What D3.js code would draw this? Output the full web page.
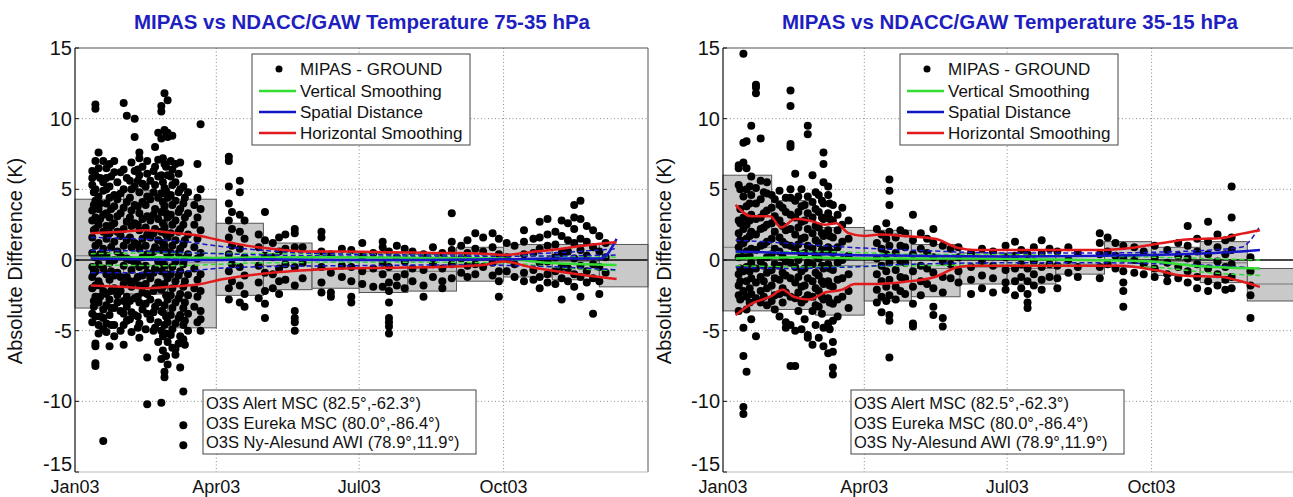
<!DOCTYPE html>
<html><head><meta charset="utf-8">
<script src="https://cdn.jsdelivr.net/npm/d3@7"></script>
<style>body{margin:0;background:#fff;overflow:hidden}</style>
</head><body><svg id="c" width="1293" height="497"></svg>
<script>
const titles = ["MIPAS vs NDACC/GAW Temperature 75-35 hPa", "MIPAS vs NDACC/GAW Temperature 35-15 hPa"];
const yLabel = "Absolute Difference (K)";
const yTicks = [-15, -10, -5, 0, 5, 10, 15];
const xTickDays = [0, 90, 181, 273];
const xTickLabels = ["Jan03", "Apr03", "Jul03", "Oct03"];
const legendLabels = ["MIPAS - GROUND", "Vertical Smoothing", "Spatial Distance", "Horizontal Smoothing"];
const stationLabels = ["O3S Alert MSC (82.5°,-62.3°)", "O3S Eureka MSC (80.0°,-86.4°)", "O3S Ny-Alesund AWI (78.9°,11.9°)"];

// ---- left panel (75-35 hPa) : [day of 2003, values]
const leftCols = [
 [11,[6.3,5.8,5.3,3.5,2.8,1.6,0.5,-0.5,-1.2,-2.0,-3.8,-4.4]],
 [12,[4.8,3.9,2.1,-0.9,-2.9,-3.3]],
 [13,[11.0,10.7,7.0,6.0,5.0,4.2,3.0,2.2,1.0,0.2,-0.8,-1.8,-2.6,-4.0,-5.9,-6.1,-7.3,-7.5]],
 [15,[7.6,6.5,4.5,3.6,2.5,1.2,-0.3,-1.5,-3.0,-4.6,-5.2]],
 [16,[5.8,4.0,2.9,0.4,-1.8,-2.6,-4.0]],
 [18,[7.0,5.5,4.9,3.2,2.0,0.8,-0.6,-2.2,-3.5,-4.1,-4.9,-12.8]],
 [20,[6.5,5.8,5.0,4.0,3.3,2.4,1.5,0.3,-1.0,-2.4,-3.2,-4.5,-5.1]],
 [22,[6.8,5.2,4.4,3.0,1.9,-0.2,-1.4,-2.8,-3.9,-6.1]],
 [23,[5.9,3.6,2.4,0.9,-0.8,-2.2,-3.4,-4.6]],
 [25,[7.0,6.2,4.6,3.8,2.6,1.3,0.0,-1.1,-2.0,-3.4,-4.6,-5.4]],
 [27,[5.5,4.3,3.1,2.0,0.6,-0.9,-2.5,-3.0]],
 [29,[6.2,4.7,3.3,1.7,0.3,-1.2,-2.2,-3.6,-5.0]],
 [31,[11.1,6.4,5.0,3.7,2.2,1.0,-0.4,-1.7,-2.9,-3.8,-4.6,-6.0]],
 [33,[10.2,5.8,4.1,2.7,1.4,0.1,-1.2,-2.6,-3.3,-4.3]],
 [35,[5.6,4.4,3.0,1.6,0.0,-1.5,-2.9,-4.2]],
 [36,[6.9,5.0,3.5,2.4,0.9,-0.7,-1.9,-3.7,-5.1]],
 [38,[10.0,8.7,6.3,5.2,3.9,2.6,1.2,-0.2,-1.5,-2.7,-3.9]],
 [40,[6.4,5.6,3.8,2.5,1.1,-0.3,-1.2,-2.6,-4.0,-4.8]],
 [41,[7.6,7.2,6.0,4.8,3.3,2.1,0.8,-0.5,-1.8,-3.0,-4.5,-5.5]],
 [43,[6.6,5.4,4.1,2.9,1.5,0.2,-1.1,-2.3,-3.5]],
 [45,[5.2,3.9,2.3,1.0,-0.4,-1.7,-3.1,-4.9]],
 [46,[7.0,6.1,4.5,3.1,1.8,0.4,-0.9,-2.4,-3.8,-6.9,-10.2]],
 [48,[5.6,4.3,2.8,1.6,0.3,-1.3,-2.8,-4.2]],
 [50,[6.3,4.8,3.2,1.9,0.6,-0.9,-2.2,-3.7,-5.0]],
 [51,[8.0,6.6,5.3,3.6,2.2,0.9,-0.6,-2.0,-3.3,-4.8]],
 [53,[9.0,7.1,5.9,4.4,2.9,1.4,-0.1,-1.6,-3.0,-4.4,-5.8]],
 [55,[10.9,10.5,8.6,6.0,4.7,3.4,2.0,0.7,-0.8,-2.1,-3.6,-5.0,-7.0,-10.1]],
 [56,[7.2,5.5,4.1,2.6,1.2,-0.2,-1.9,-3.7,-5.4,-6.4]],
 [57,[11.8,9.2,6.8,5.1,3.8,2.3,1.0,-0.4,-1.7,-3.2,-4.6,-7.9,-8.3]],
 [58,[9.0,6.6,4.9,3.3,1.8,0.6,-1.0,-2.5,-4.0,-5.2,-6.8]],
 [59,[11.3,9.0,8.7,6.0,4.4,3.0,1.6,0.3,-1.3,-2.8,-4.4,-5.8,-7.4]],
 [61,[7.0,5.9,4.6,3.2,1.9,0.5,-1.0,-2.5,-3.9,-5.3]],
 [62,[8.8,6.4,5.3,3.9,2.5,1.0,-0.5,-2.0,-3.4,-4.9,-6.2]],
 [64,[6.8,5.5,4.2,2.8,1.4,-0.1,-1.5,-3.0,-4.5,-6.3,-6.7]],
 [66,[6.1,4.8,3.4,2.0,0.5,-1.1,-2.7,-4.1,-5.9]],
 [67,[6.9,5.0,3.6,2.2,0.8,-0.8,-2.4,-3.9,-5.4,-7.6]],
 [69,[5.2,4.0,2.5,1.1,-0.3,-1.9,-3.4,-4.6,-5.6,-9.3,-11.7,-13.1]],
 [70,[4.4,3.0,1.4,0.1,-1.5,-3.0,-4.3,-6.0]],
 [72,[4.8,3.3,1.8,0.4,-1.0,-2.5,-3.8,-5.0]],
 [76,[3.9,2.5,0.9,-0.6,-2.0,-3.3]],
 [78,[6.8,4.4,3.0,1.5,0.1,-1.4,-2.6,-4.4]],
 [80,[9.6,5.0,3.6,2.1,0.5,-1.0,-2.2,-3.6,-4.2,-5.0]],
 [98,[7.3,7.0,5.2,4.0,2.8,1.6,0.4,-0.8,-2.0,-2.8]],
 [100,[3.4,2.2,1.0,-0.3,-1.5]],
 [105,[5.6,4.8,3.2,2.0,0.8,-0.5,-1.8,-3.0]],
 [108,[2.8,1.5,0.2,-1.1,-2.4,-3.3]],
 [117,[1.8,0.9,-0.4,-1.6,-2.7]],
 [121,[3.4,1.4,0.3,-0.9,-2.2,-3.1,-4.1]],
 [126,[1.2,0.2,-1.0,-2.0]],
 [130,[1.6,0.6,-0.6,-1.5,-2.4]],
 [134,[1.8,0.8,-0.3,-1.4]],
 [140,[2.2,1.9,0.9,-0.5,-1.8,-3.6,-4.1,-4.4,-5.0]],
 [145,[0.9,-0.2,-1.3]],
 [157,[2.0,1.6,0.6,-0.5,-1.6,-2.3]],
 [163,[0.4,-0.9,-2.3,-2.6]],
 [170,[0.8,-0.4,-1.2]],
 [176,[0.7,-0.5,-1.5,-2.6,-3.0]],
 [183,[1.2,0.3,-0.8,-1.7]],
 [190,[0.5,-0.6,-1.9]],
 [196,[1.3,0.9,-0.2,-1.0,-1.9]],
 [200,[0.6,-0.5,-1.6,-2.2,-3.0,-4.1,-4.4,-4.7,-5.2]],
 [205,[1.0,0.2,-1.2,-1.8]],
 [210,[0.8,-0.1,-1.0,-2.0]],
 [215,[0.6,-0.6,-1.5]],
 [222,[0.4,-0.7,-1.8,-2.6]],
 [228,[0.9,-0.3,-1.2]],
 [234,[0.5,-0.6,-1.5,-2.0]],
 [240,[3.3,1.3,0.7,-0.3,-1.3]],
 [246,[1.0,0.1,-0.9]],
 [250,[1.4,0.5,-0.4,-1.2]],
 [255,[1.9,0.8,-0.3,-1.0]],
 [260,[1.6,0.6,-0.5]],
 [266,[1.9,0.9,-0.2,-1.1]],
 [270,[1.5,0.4,-0.8,-1.5,-2.6]],
 [275,[1.2,0.2,-0.8]],
 [280,[1.0,-0.3,-1.2]],
 [286,[2.1,1.3,0.4,-0.9,-1.5]],
 [292,[1.5,0.5,-0.7,-1.4]],
 [296,[2.7,1.6,0.8,-0.2,-1.2,-2.0]],
 [301,[2.9,1.8,1.0,-0.1,-1.0,-1.6]],
 [306,[2.0,1.1,0.2,-0.8,-1.7]],
 [310,[2.8,1.7,0.5,-0.5,-1.3,-2.8]],
 [314,[2.6,1.4,0.6,-0.6,-1.5]],
 [318,[3.9,3.0,2.2,1.2,0.1,-1.0,-1.9]],
 [322,[4.2,2.9,1.5,0.7,-0.4,-1.2,-2.6]],
 [326,[2.4,1.3,0.3,-0.8,-1.6]],
 [330,[2.1,0.9,-0.3,-1.3,-3.8]],
 [334,[1.7,0.6,-0.5,-1.5,-2.4]],
 [338,[1.2,0.2,-0.9]]
];
// [start day, end day, low, high, middle]
const leftBoxes = [
 [0,22,-3.4,4.3,0.3],[22,59,-2.4,4.3,0.2],[31,59,-2.4,4.9,0.2],[59,90,-4.8,4.3,-0.2],
 [90,120,-2.5,2.6,0.1],[120,151,-2.1,1.2,-0.4],[151,181,-2.0,0.6,-0.6],[181,212,-2.3,0.5,-0.8],
 [212,243,-2.2,0.4,-0.8],[243,273,-1.5,0.9,-0.3],[273,304,-1.2,1.1,0.0],[304,334,-1.4,1.1,-0.1],[334,365,-1.9,1.1,0.0]
];
const leftRedUp = [[10,1.9],[30,2.0],[45,2.1],[60,1.95],[80,1.7],[90,1.45],[110,1.0],[130,0.75],[150,0.6],[170,0.6],[200,0.55],[230,0.5],[260,0.45],[273,0.35],[290,0.55],[310,0.8],[330,1.1],[345,1.25]];
const leftRedLo = [[10,-1.8],[30,-1.9],[45,-2.0],[60,-1.9],[80,-1.7],[90,-1.45],[110,-1.1],[130,-0.85],[150,-0.7],[170,-0.6],[200,-0.55],[230,-0.5],[260,-0.35],[273,-0.1],[290,-0.5],[310,-0.85],[330,-1.15],[345,-1.35]];
const leftBlueMid = [[10,0.1],[40,0.05],[80,0.0],[120,0.05],[170,0.0],[220,0.0],[273,0.05],[310,0.1],[335,0.1],[345,1.5]];
const leftBlueUp = [[10,1.6],[40,1.5],[70,1.3],[90,1.0],[130,0.6],[180,0.4],[240,0.35],[280,0.4],[320,0.6],[345,0.8]];
const leftBlueLo = [[10,-0.9],[40,-0.9],[70,-0.8],[90,-0.6],[130,-0.45],[180,-0.4],[240,-0.35],[280,-0.4],[320,-0.55],[345,-0.7]];
const leftBlueUp2 = [[10,0.7],[50,0.6],[90,0.45],[150,0.3],[250,0.25],[345,0.35]];
const leftGreenMid = [[10,0.15],[50,0.2],[90,0.15],[150,0.2],[220,0.15],[273,0.1],[300,-0.2],[345,-0.35]];
const leftGreenUp = [[10,0.45],[60,0.5],[120,0.45],[200,0.4],[273,0.3],[345,0.2]];
const leftGreenLo = [[10,-0.35],[60,-0.4],[120,-0.2],[200,-0.15],[273,-0.2],[310,-0.55],[345,-0.75]];

// ---- right panel (35-15 hPa)
const rightCols = [
 [10,[6.7,6.5,5.3,2.8,1.9,0.9,0.2,-1.0,-1.8,-2.5,-3.6]],
 [11,[5.0,3.6,2.6,1.4,0.5,-0.6,-1.5,-2.8]],
 [13,[14.6,8.3,6.9,4.5,3.0,2.2,1.2,0.3,-0.8,-2.2,-4.8,-6.8,-10.4,-10.9]],
 [15,[8.4,6.5,5.0,3.8,2.5,1.5,0.6,-0.5,-1.5,-2.6,-3.5,-7.9]],
 [17,[5.2,4.0,2.8,1.7,0.3,-0.8,-2.0,-3.0]],
 [18,[9.5,5.9,4.6,3.2,2.0,0.8,-0.2,-1.3,-2.4,-4.2]],
 [21,[12.4,12.2,11.8,5.1,4.0,2.9,1.8,0.7,-0.6,-1.6,-2.7,-5.4]],
 [24,[8.6,5.6,4.3,3.0,2.2,1.0,-0.1,-1.2,-2.2,-3.0]],
 [26,[4.8,3.3,2.3,1.1,-0.4,-1.5,-2.6]],
 [28,[5.5,4.7,3.5,2.5,1.3,0.2,-0.9,-2.0,-3.2]],
 [31,[4.6,3.7,2.6,1.5,0.4,-0.7,-1.8,-2.9]],
 [33,[4.3,3.1,2.0,0.8,-0.3,-1.3,-2.5,-3.5]],
 [36,[4.9,3.9,2.8,1.6,0.6,-0.4,-1.4,-2.4,-4.0]],
 [38,[3.7,2.4,1.3,0.2,-0.9,-2.0,-3.0]],
 [40,[4.4,3.4,2.1,1.1,-0.1,-1.1,-2.3,-4.4,-4.8]],
 [43,[12.0,10.9,8.2,8.0,5.0,4.4,3.2,2.2,1.0,-0.2,-1.3,-2.6,-4.6,-7.5]],
 [46,[6.1,4.2,3.0,1.8,0.7,-0.5,-1.6,-2.7,-5.0,-7.5]],
 [48,[4.5,3.4,2.3,1.1,0.0,-1.2,-2.3,-3.6]],
 [50,[5.0,3.8,2.7,1.5,0.4,-0.8,-1.9,-3.0,-4.9]],
 [52,[3.9,2.8,1.6,0.5,-0.6,-1.8,-2.8,-4.2]],
 [54,[9.5,8.9,4.5,3.3,2.2,1.0,-0.2,-1.3,-2.5,-5.3,-5.5]],
 [57,[6.0,4.1,3.0,1.9,0.8,-0.3,-1.5,-2.6,-3.6,-6.0]],
 [59,[4.8,3.6,2.4,1.4,0.3,-0.9,-2.0,-3.2,-4.6]],
 [61,[4.6,3.4,2.3,1.2,0.1,-1.1,-2.2,-3.3,-5.5]],
 [63,[4.2,3.0,1.9,0.7,-0.4,-1.5,-2.6,-3.8]],
 [64,[7.6,6.8,5.5,4.0,2.9,1.7,0.6,-0.6,-1.7,-2.8,-4.8,-6.1]],
 [67,[5.2,4.6,3.3,2.1,0.9,-0.3,-1.5,-2.7,-4.5,-6.6]],
 [68,[4.0,2.9,1.7,0.6,-0.6,-1.8,-3.0,-4.9]],
 [70,[3.9,2.8,1.6,0.5,-0.7,-1.9,-3.1,-4.3,-5.8,-6.5,-7.6,-8.1]],
 [73,[3.2,2.1,0.9,-0.2,-1.4,-2.8,-4.0]],
 [76,[3.7,2.5,1.3,0.0,-1.3,-2.6]],
 [80,[2.8,1.5,0.3,-1.0,-2.2,-3.4]],
 [98,[2.2,1.2,0.1,-1.0,-2.1,-3.0]],
 [101,[1.8,0.8,-0.4,-1.5,-2.6,-3.7]],
 [104,[2.6,1.5,0.4,-0.8,-1.9,-2.9]],
 [106,[5.7,4.9,3.9,2.0,1.0,-0.2,-1.4,-2.5,-3.9,-4.3,-6.9]],
 [110,[1.6,0.5,-0.7,-1.9,-2.8]],
 [113,[2.1,1.0,-0.1,-1.2,-2.2]],
 [116,[1.9,0.9,-0.2,-1.3,-2.4]],
 [121,[3.2,1.4,0.4,-0.8,-1.9,-3.1,-4.5,-4.7]],
 [126,[1.9,0.8,-0.4,-1.5,-2.5]],
 [130,[1.5,0.5,-0.6,-1.7]],
 [134,[2.2,1.2,0.2,-0.9,-2.0,-3.3,-3.9]],
 [140,[1.0,-0.1,-1.2,-2.3,-4.1,-4.7]],
 [145,[0.8,-0.3,-1.3]],
 [150,[0.9,0.2,-0.8,-1.6]],
 [158,[0.5,-0.5,-1.4,-2.4]],
 [165,[0.8,-0.2,-1.1,-2.0]],
 [172,[0.6,-0.4,-1.3,-2.3]],
 [180,[1.0,0.2,-0.7,-1.6,-2.1]],
 [186,[1.3,0.3,-0.6,-1.5,-2.5]],
 [190,[0.7,-0.3,-1.2,-2.0]],
 [194,[0.4,-0.6,-1.5,-2.4,-3.0,-3.4]],
 [198,[0.9,-0.1,-1.0,-1.8]],
 [203,[1.4,0.5,-0.5,-1.4,-2.1]],
 [208,[0.8,-0.3,-1.2]],
 [213,[0.6,-0.4,-1.3,-2.0]],
 [220,[0.9,0.0,-0.9]],
 [226,[0.5,-0.5,-1.2]],
 [240,[1.9,1.2,0.4,-0.5,-1.3]],
 [245,[1.6,0.6,-0.3]],
 [250,[1.2,0.3,-0.6]],
 [255,[1.0,0.1,-0.8,-1.6,-2.2,-3.3]],
 [262,[0.9,0.0,-0.9]],
 [268,[0.6,-0.3,-1.0]],
 [275,[1.0,0.2,-0.6,-1.2]],
 [283,[0.7,-0.2,-1.0,-1.5]],
 [290,[1.2,0.3,-0.5,-1.3]],
 [296,[2.4,1.0,0.1,-0.8,-1.6]],
 [302,[1.5,0.6,-0.3,-1.2,-2.0]],
 [309,[2.7,1.3,0.4,-0.6,-1.5,-2.2]],
 [315,[1.8,0.9,-0.1,-1.0,-1.8]],
 [320,[1.4,0.4,-0.5,-1.4,-2.1]],
 [324,[5.2,3.0,1.6,0.7,-0.3,-1.2,-2.0]],
 [336,[0.2,-0.8,-1.8,-2.5,-4.1]]
];
const rightBoxes = [
 [0,31,-3.6,6.0,0.9],[31,59,-3.5,4.2,0.4],[59,90,-3.9,2.3,-0.4],[90,120,-2.9,2.1,-0.2],
 [120,151,-2.6,1.1,-0.6],[151,181,-1.7,0.5,-0.5],[181,212,-1.7,0.3,-0.6],[212,243,-1.0,0.3,-0.3],
 [243,273,-0.5,1.3,0.4],[273,304,-1.1,0.9,-0.1],[304,334,-1.6,1.3,-0.2],[334,365,-2.9,-0.6,-1.7]
];
const rightRedUp = [[8,3.9],[18,3.1],[30,3.1],[37,2.3],[46,2.9],[55,2.8],[65,2.5],[72,2.6],[80,1.9],[90,1.7],[100,1.8],[115,1.7],[135,1.5],[150,0.85],[160,0.7],[200,0.7],[240,0.7],[255,0.8],[280,1.2],[295,1.45],[318,1.55],[328,1.8],[342,2.1]];
const rightRedLo = [[8,-3.9],[18,-3.1],[30,-2.6],[38,-2.1],[45,-2.6],[55,-2.8],[65,-2.3],[76,-2.1],[84,-1.7],[94,-1.7],[115,-1.55],[135,-1.2],[150,-0.5],[161,-0.4],[253,-0.4],[277,-0.75],[292,-1.1],[318,-1.2],[328,-1.45],[342,-1.9]];
const rightBlueMid = [[8,0.6],[40,0.5],[80,0.35],[120,0.3],[180,0.25],[240,0.3],[290,0.4],[330,0.6],[342,0.7]];
const rightBlueUp = [[8,1.4],[40,1.2],[80,0.9],[120,0.7],[180,0.5],[240,0.5],[290,0.6],[330,0.9],[342,2.4]];
const rightBlueLo = [[8,-0.5],[40,-0.6],[80,-0.5],[120,-0.3],[180,-0.2],[240,-0.2],[290,-0.3],[330,-0.5],[342,-0.6]];
const rightBlueUp2 = [];
const rightGreenMid = [[8,0.1],[50,0.2],[100,0.1],[160,0.1],[230,0.0],[273,-0.1],[300,-0.4],[342,-0.6]];
const rightGreenUp = [[8,0.5],[60,0.6],[120,0.4],[200,0.35],[273,0.2],[342,0.0]];
const rightGreenLo = [[8,-0.4],[60,-0.5],[120,-0.4],[200,-0.35],[273,-0.5],[310,-0.9],[342,-1.1]];

const panels = [
 {x0:75, title:titles[0], cols:leftCols, boxes:leftBoxes, redUp:leftRedUp, redLo:leftRedLo, blueMid:leftBlueMid, blueUp:leftBlueUp, blueLo:leftBlueLo, blueUp2:leftBlueUp2, greenMid:leftGreenMid, greenUp:leftGreenUp, greenLo:leftGreenLo, ylab:22},
 {x0:723, title:titles[1], cols:rightCols, boxes:rightBoxes, redUp:rightRedUp, redLo:rightRedLo, blueMid:rightBlueMid, blueUp:rightBlueUp, blueLo:rightBlueLo, blueUp2:rightBlueUp2, greenMid:rightGreenMid, greenUp:rightGreenUp, greenLo:rightGreenLo, ylab:671}
];

const svg = d3.select("#c");
const FONT = "'Liberation Sans', Arial, sans-serif";
const RED = "#e31a1c", BLUE = "#1515c8", GREEN = "#33dd33";

panels.forEach(p => {
  const x = d3.scaleLinear().domain([0, 365]).range([p.x0, p.x0 + 573]);
  const y = d3.scaleLinear().domain([-15, 15]).range([472, 48]);
  const g = svg.append("g");
  // grid
  g.selectAll(".gy").data(yTicks.filter(t => Math.abs(t) < 15)).join("line")
    .attr("x1", x(0)).attr("x2", x(365)).attr("y1", d => y(d)).attr("y2", d => y(d))
    .attr("stroke", "#8a8a8a").attr("stroke-width", 1).attr("stroke-dasharray", "1,2.5");
  g.selectAll(".gx").data(xTickDays.slice(1)).join("line")
    .attr("x1", d => x(d)).attr("x2", d => x(d)).attr("y1", y(15)).attr("y2", y(-15))
    .attr("stroke", "#8a8a8a").attr("stroke-width", 1).attr("stroke-dasharray", "1,2.5");
  // boxes
  g.selectAll(".bx").data(p.boxes).join("rect")
    .attr("x", d => x(d[0])).attr("width", d => x(d[1]) - x(d[0]))
    .attr("y", d => y(d[3])).attr("height", d => y(d[2]) - y(d[3]))
    .attr("fill", "#c9c9c9").attr("stroke", "#555").attr("stroke-width", 1);
  g.selectAll(".bm").data(p.boxes).join("line")
    .attr("x1", d => x(d[0])).attr("x2", d => x(d[1])).attr("y1", d => y(d[4])).attr("y2", d => y(d[4]))
    .attr("stroke", "#777").attr("stroke-width", 1);
  // zero line
  g.append("line").attr("x1", x(0)).attr("x2", x(365)).attr("y1", y(0)).attr("y2", y(0))
    .attr("stroke", "#111").attr("stroke-width", 1.6);
  // points
  const pts = [];
  p.cols.forEach(c => c[1].forEach(v => pts.push([c[0], v])));
  g.selectAll(".pt").data(pts).join("circle")
    .attr("cx", d => x(d[0])).attr("cy", d => y(d[1])).attr("r", 4).attr("fill", "#000");
  // lines
  const line = d3.line().x(d => x(d[0])).y(d => y(d[1])).curve(d3.curveMonotoneX);
  const drawL = (data, col, w, dash) => {
    if (!data.length) return;
    g.append("path").attr("d", line(data)).attr("fill", "none").attr("stroke", col)
      .attr("stroke-width", w).attr("stroke-dasharray", dash || null);
  };
  drawL(p.greenUp, GREEN, 1.5, "5,3");
  drawL(p.greenLo, GREEN, 1.5, "5,3");
  drawL(p.blueUp, BLUE, 1.5, "5,3");
  drawL(p.blueLo, BLUE, 1.5, "5,3");
  drawL(p.blueUp2, BLUE, 1.5, "5,3");
  drawL(p.greenMid, GREEN, 2.5);
  drawL(p.blueMid, BLUE, 2.5);
  drawL(p.redUp, RED, 2.5);
  drawL(p.redLo, RED, 2.5);
  // axes frame
  g.append("line").attr("x1", x(0)).attr("x2", x(365)).attr("y1", y(15)).attr("y2", y(15)).attr("stroke", "#555").attr("stroke-width", 1);
  g.append("line").attr("x1", x(365)).attr("x2", x(365)).attr("y1", y(15)).attr("y2", y(-15)).attr("stroke", "#555").attr("stroke-width", 1);
  g.append("line").attr("x1", x(0)).attr("x2", x(365)).attr("y1", y(-15)).attr("y2", y(-15)).attr("stroke", "#bbb").attr("stroke-width", 1);
  g.append("line").attr("x1", x(0)).attr("x2", x(0)).attr("y1", y(15)).attr("y2", y(-15)).attr("stroke", "#111").attr("stroke-width", 1.2);
  // y ticks
  g.selectAll(".ytl").data(yTicks).join("text")
    .attr("x", x(0) - 3).attr("y", d => y(d) + (d === -15 ? -1 : 7)).attr("text-anchor", "end")
    .attr("font-family", FONT).attr("font-size", 20).attr("fill", "#111").text(d => d);
  g.selectAll(".ytk").data(yTicks).join("line")
    .attr("x1", x(0)).attr("x2", x(0) + 4).attr("y1", d => y(d)).attr("y2", d => y(d)).attr("stroke", "#111");
  // x ticks
  g.selectAll(".xtl").data(xTickDays).join("text")
    .attr("x", d => x(d)).attr("y", 492.5).attr("text-anchor", "middle")
    .attr("font-family", FONT).attr("font-size", 18).attr("fill", "#111")
    .text((d, i) => xTickLabels[i]);
  // title
  g.append("text").attr("x", x(0) + 287).attr("y", 29).attr("text-anchor", "middle")
    .attr("font-family", FONT).attr("font-size", 20.5).attr("font-weight", "bold").attr("fill", "#1f1fc0").text(p.title);
  // y label
  g.append("text").attr("transform", `translate(${p.ylab},261) rotate(-90)`).attr("text-anchor", "middle")
    .attr("font-family", FONT).attr("font-size", 20).attr("fill", "#111").text(yLabel);
  // top legend
  const lx = x(0) + 177, ly = 54;
  const lg = g.append("g");
  lg.append("rect").attr("x", lx).attr("y", ly).attr("width", 218).attr("height", 91)
    .attr("fill", "#fff").attr("stroke", "#444").attr("stroke-width", 1);
  const rowsY = [69, 91, 112, 133];
  const cols = [null, GREEN, BLUE, RED];
  legendLabels.forEach((t, i) => {
    if (i === 0) lg.append("circle").attr("cx", lx + 27).attr("cy", rowsY[i]).attr("r", 3.5).attr("fill", "#000");
    else lg.append("line").attr("x1", lx + 7).attr("x2", lx + 44).attr("y1", rowsY[i]).attr("y2", rowsY[i]).attr("stroke", cols[i]).attr("stroke-width", 2.5);
    lg.append("text").attr("x", lx + 48).attr("y", rowsY[i] + 6).attr("font-family", FONT).attr("font-size", 17).attr("fill", "#111").text(t);
  });
  // station box
  const sx = x(0) + 128, sy = 390;
  const sg = g.append("g");
  sg.append("rect").attr("x", sx).attr("y", sy).attr("width", 273).attr("height", 64)
    .attr("fill", "#fff").attr("stroke", "#444").attr("stroke-width", 1);
  stationLabels.forEach((t, i) => {
    sg.append("text").attr("x", sx + 3).attr("y", 409 + i * 19.5).attr("font-family", FONT).attr("font-size", 16.5).attr("fill", "#111").text(t);
  });
});
</script>
</body></html>
